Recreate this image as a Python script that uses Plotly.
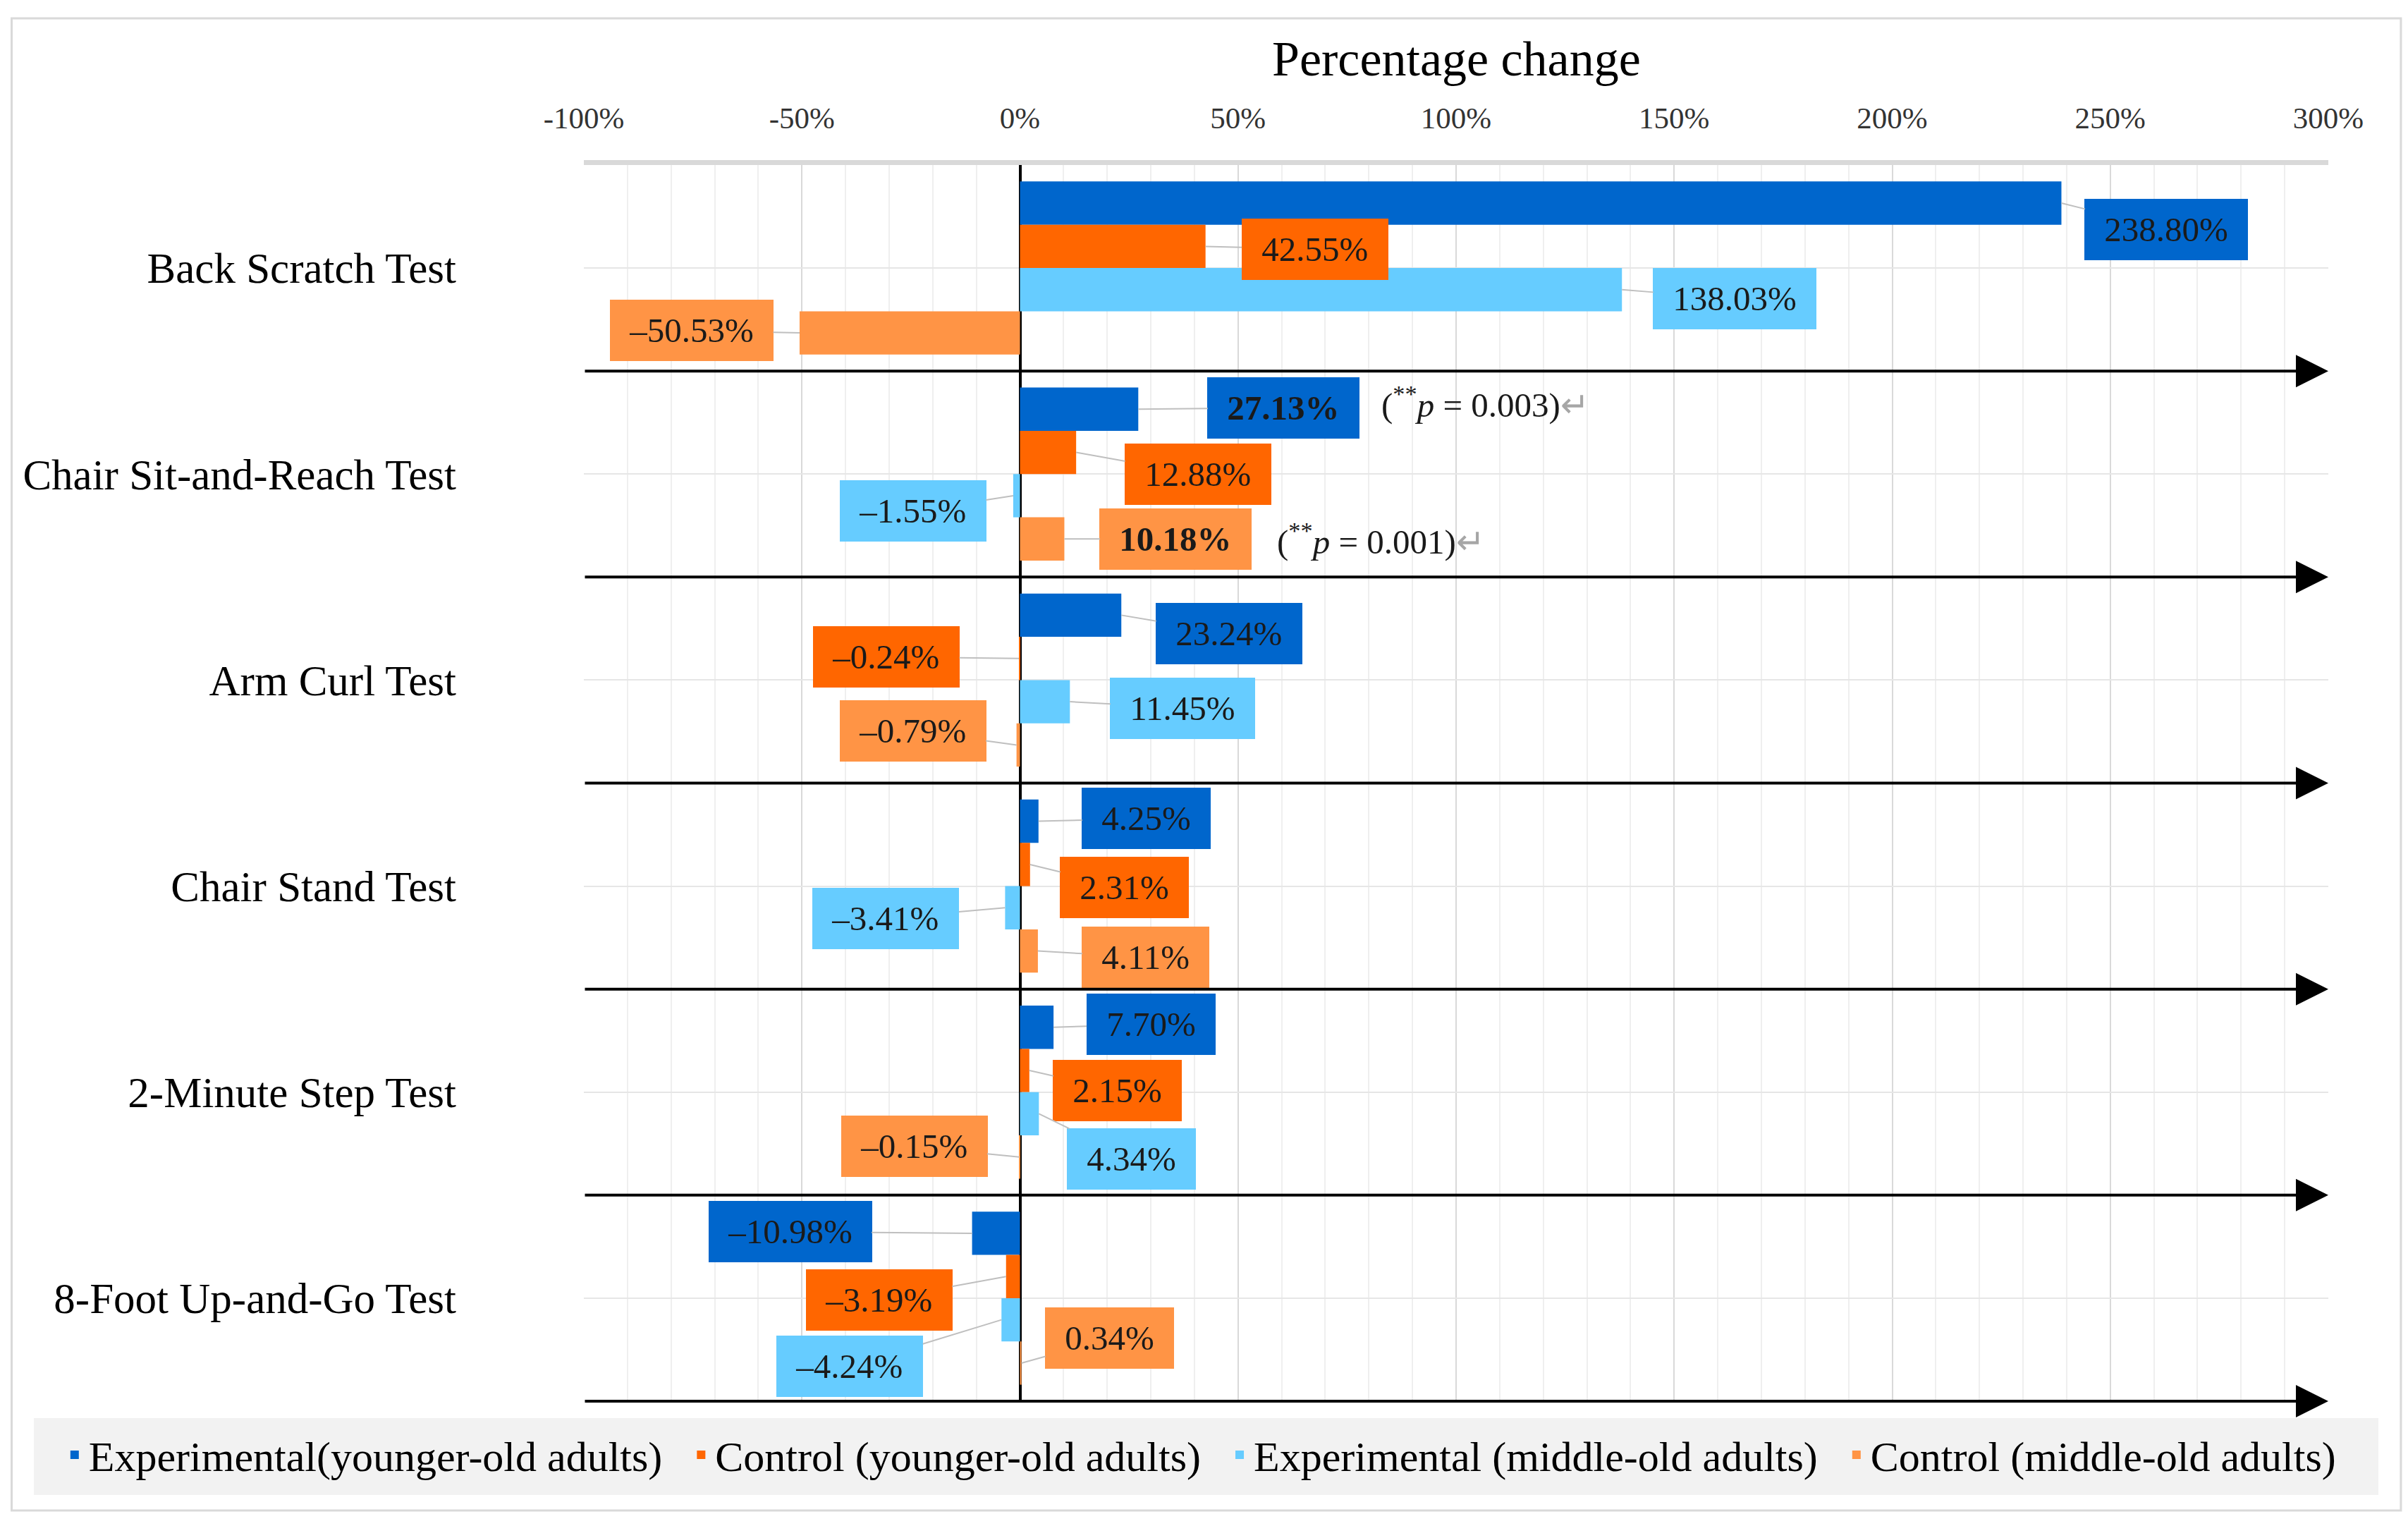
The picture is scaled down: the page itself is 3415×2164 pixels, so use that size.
import plotly.graph_objects as go

# Données (variation en %)
tests = ['Back Scratch Test', 'Chair Sit-and-Reach Test', 'Arm Curl Test',
         'Chair Stand Test', '2-Minute Step Test', '8-Foot Up-and-Go Test']
series_names = ['Experimental(younger-old adults)', 'Control (younger-old adults)',
                'Experimental (middle-old adults)', 'Control (middle-old adults)']
exp_young = [238.80, 27.13, 23.24, 4.25, 7.70, -10.98]
ctrl_young = [42.55, 12.88, -0.24, 2.31, 2.15, -3.19]
exp_middle = [138.03, -1.55, 11.45, -3.41, 4.34, -4.24]
ctrl_middle = [-50.53, 10.18, -0.79, 4.11, -0.15, 0.34]
x_tickvals = [-100, -50, 0, 50, 100, 150, 200, 250, 300]
x_ticktext = ['-100%', '-50%', '0%', '50%', '100%', '150%', '200%', '250%', '300%']

# étiquettes significatives (test, série) -> valeur de p
bold_labels = {(1, 0): '0.003', (1, 3): '0.001'}

colors = ['#0066CC', '#FF6600', '#66CCFF', '#FF9445']
FONT = 'Liberation Serif'

# décalages des étiquettes (px) par rapport au bout de la barre
label_offsets = [
    [(149, 37), (155, 4), (160, 13), (-153, -4)],
    [(206, -2), (173, 31), (-142, 22), (158, 0)],
    [(153, 26), (-188, -2), (160, 9), (-147, -20)],
    [(153, -4), (134, 33), (-169, 15), (153, 9)],
    [(138, -4), (125, 28), (131, 64), (-149, -15)],
    [(-258, -2), (-180, 33), (-215, 66), (125, -35)],
]
p_shift = {(1, 0): (343, 10), (1, 3): (300, 0)}

all_series = [exp_young, ctrl_young, exp_middle, ctrl_middle]
bargap = 0.16
bar_h = (1 - bargap) / len(all_series)

fig = go.Figure()
for k, (name, vals, col) in enumerate(zip(series_names, all_series, colors)):
    # un peu d'espace après chaque entrée de légende, comme dans l'original
    pad = '\u00a0\u00a0' if k < len(series_names) - 1 else ''
    fig.add_trace(go.Bar(
        y=tests, x=vals, name=name + pad, orientation='h',
        marker=dict(color=col, line=dict(width=0)),
        hovertemplate='%{y}: %{x:.2f}%<extra></extra>'
    ))

annotations = []
# étiquettes de données avec lignes de rappel
for s, vals in enumerate(all_series):
    for i, v in enumerate(vals):
        yc = i - (1 - bargap) / 2 + bar_h * (s + 0.5)
        txt = f'{v:.2f}%'.replace('-', '\u2013')
        if (i, s) in bold_labels:
            txt = f'<b>{txt}</b>'
        dx, dy = label_offsets[i][s]
        annotations.append(dict(
            x=v, y=yc, xref='x', yref='y', text='\u00a0' + txt + '\u00a0',
            showarrow=True, arrowhead=0, arrowwidth=2, arrowcolor='#BFBFBF',
            ax=dx, ay=dy, standoff=0,
            bgcolor=colors[s], bordercolor=colors[s], borderpad=15,
            font=dict(family=FONT, size=49, color='#1A1A1A')
        ))
        if (i, s) in bold_labels:
            xs, ys = p_shift[(i, s)]
            annotations.append(dict(
                x=v, y=yc, xref='x', yref='y', showarrow=False,
                xanchor='left', yanchor='middle', xshift=xs, yshift=ys,
                text=f'(<sup>**</sup><i>p</i> = {bold_labels[(i, s)]})'
                     '<span style="color:#A6A6A6">\u21b5</span>',
                font=dict(family=FONT, size=49, color='#1A1A1A')
            ))

# lignes fléchées séparant les tests
for k in range(len(tests)):
    annotations.append(dict(
        x=x_tickvals[-1], y=k + 0.5, xref='x', yref='y',
        ax=x_tickvals[0], ay=k + 0.5, axref='x', ayref='y',
        text='', showarrow=True, arrowhead=2, arrowsize=2.3,
        arrowwidth=4, arrowcolor='black', standoff=0
    ))

annotations.append(dict(
    x=0.5, y=1.0861, xref='paper', yref='paper', showarrow=False,
    xanchor='center', yanchor='middle',
    text='Percentage change', font=dict(family=FONT, size=70, color='black')
))

# la page garde une marge de 8 px autour de la figure
fig.update_layout(
    width=3399, height=2148,
    margin=dict(l=820, r=105, t=226, b=169, autoexpand=False),
    barmode='group', bargap=bargap, bargroupgap=0,
    plot_bgcolor='white', paper_bgcolor='white',
    font=dict(family=FONT, color='black'),
    annotations=annotations,
    showlegend=True,
    legend=dict(
        orientation='h', x=-0.300, xanchor='left', y=-0.0434, yanchor='middle',
        bgcolor='rgba(0,0,0,0)', font=dict(family=FONT, size=60, color='black'),
        traceorder='normal'
    ),
    shapes=[
        # cadre extérieur
        dict(type='rect', xref='paper', yref='paper', x0=-0.328, x1=1.0416,
             y0=-0.0884, y1=1.1187, line=dict(color='#D9D9D9', width=3),
             layer='below'),
        # bandeau de la légende
        dict(type='rect', xref='paper', yref='paper', x0=-0.3153, x1=1.0287,
             y0=-0.0759, y1=-0.0137, fillcolor='#F2F2F2', line=dict(width=0),
             layer='below'),
    ]
)

fig.update_xaxes(
    side='top', range=[-100, 300], tickvals=x_tickvals, ticktext=x_ticktext,
    tickfont=dict(family=FONT, size=43, color='#333333'),
    ticklabelstandoff=28, tickangle=0,
    showgrid=True, gridcolor='#D9D9D9', gridwidth=2,
    minor=dict(dtick=10, showgrid=True, gridcolor='#EFEFEF', gridwidth=2),
    zeroline=True, zerolinecolor='black', zerolinewidth=4,
    showline=True, linecolor='#D9D9D9', linewidth=7, mirror=False,
    fixedrange=True
)
fig.update_yaxes(
    type='category', categoryorder='array', categoryarray=tests,
    range=[len(tests) - 0.5, -0.5],
    tickfont=dict(family=FONT, size=61, color='black'),
    ticklabelstandoff=180,
    showgrid=True, gridcolor='#E6E6E6', gridwidth=2,
    showline=False, zeroline=False, fixedrange=True
)

fig.write_html("out.html")
